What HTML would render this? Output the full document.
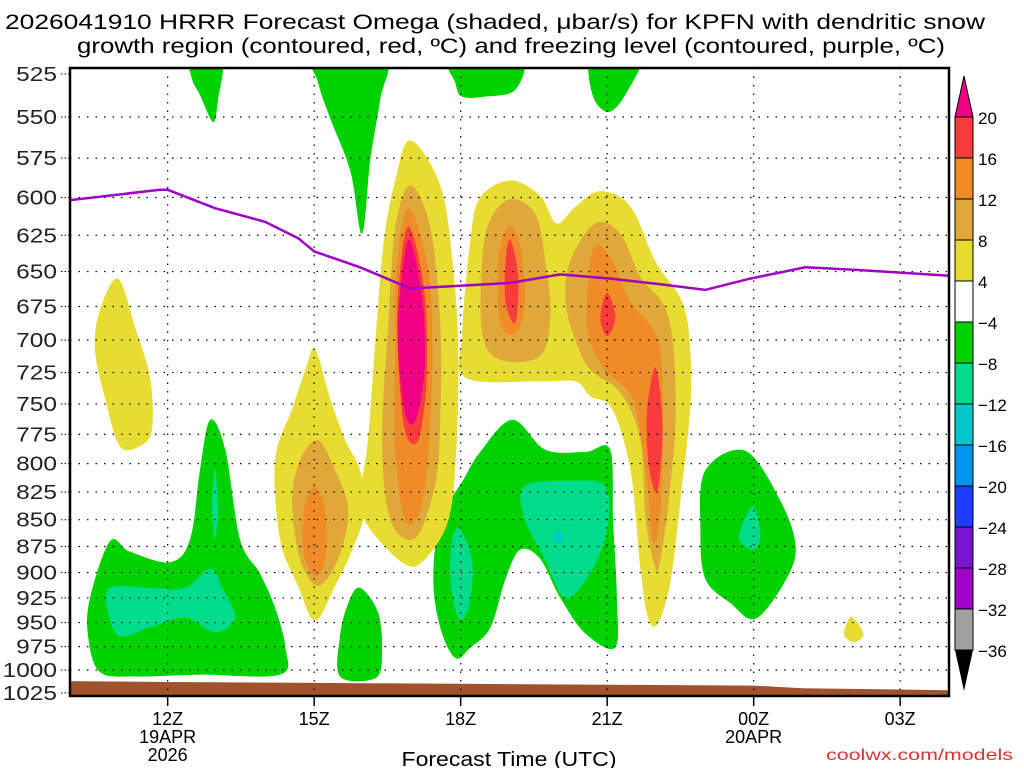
<!DOCTYPE html>
<html><head><meta charset="utf-8">
<style>
body{margin:0;background:#fff;}
svg text{font-family:"Liberation Sans","DejaVu Sans",sans-serif;}
</style></head>
<body>
<svg id="chart" width="1024" height="768" viewBox="0 0 1024 768" xmlns="http://www.w3.org/2000/svg">
<text x="495" y="29" font-size="21" text-anchor="middle" textLength="980" lengthAdjust="spacingAndGlyphs">2026041910 HRRR Forecast Omega (shaded, μbar/s) for KPFN with dendritic snow</text>
<text x="511" y="53" font-size="21" text-anchor="middle" textLength="868" lengthAdjust="spacingAndGlyphs">growth region (contoured, red, ºC) and freezing level (contoured, purple, ºC)</text>
<defs><clipPath id="plotclip"><rect x="70" y="68" width="879" height="628"/></clipPath></defs>
<g id="shading" clip-path="url(#plotclip)"></g>
<g id="grid"></g>
<g id="frz" clip-path="url(#plotclip)"></g>
<rect x="70" y="68" width="879" height="628" fill="none" stroke="#000" stroke-width="2.5"/>
<g id="axes"></g>
<g id="colorbar"></g>
<text x="509" y="766" font-size="20" text-anchor="middle" textLength="215" lengthAdjust="spacingAndGlyphs">Forecast Time (UTC)</text>
<text x="1013" y="760" font-size="16" text-anchor="end" fill="#e03030" textLength="187" lengthAdjust="spacingAndGlyphs">coolwx.com/models</text>
</svg>
<script>
// ---- data ----
const pLevels=[525,550,575,600,625,650,675,700,725,750,775,800,825,850,875,900,925,950,975,1000,1025];
const timeTicks=[12,15,18,21,24,27];
const timeLabels=["12Z","15Z","18Z","21Z","00Z","03Z"];
const cbLevels=[20,16,12,8,4,-4,-8,-12,-16,-20,-24,-28,-32,-36];
const cbColors=["#f83c3c","#f08c28","#e0a838","#e6dc32","#ffffff","#00d200","#00dc8c","#00c8c8","#0096f0","#1e3cff","#7814d2","#a000c8","#a0a0a0"];
const frzHours=[10,11.84,12,12.97,14,14.67,15,15.94,16.97,17.99,19.02,20.04,21.07,22.09,23.01,23.93,25.06,26.19,28];
const frzP=[601.7,595,595,607,616,627,636,647,662,660,658,652,655,659,663,655,647,649,653];
const sfcHours=[10,12,15,18,21,24,25,28];
const sfcP=[1012,1013,1014,1015,1016,1017,1020,1022];
const regions=[
["#00d200",[[10.41,925],[10.82,870],[11.23,880],[12.05,890],[12.46,868],[12.66,806],[12.87,763],[13.18,788],[13.48,868],[13.89,901],[14.2,935],[14.41,976],[14.3,1005],[12.66,1005],[11.33,1007],[10.61,1002],[10.37,964]]],
["#00dc8c",[[10.82,915],[11.64,915],[12.36,915],[12.87,896],[13.12,915],[13.38,945],[12.97,960],[12.36,945],[11.64,955],[11.02,964],[10.78,940]]],
["#00dc8c",[[12.97,804],[13.03,842],[12.97,868],[12.91,838]]],
["#00d200",[[12.46,515],[13.11,515],[13.03,540],[12.93,553],[12.66,537],[12.5,528]]],
["#00d200",[[15.02,515],[16.45,515],[16.35,540],[16.15,576],[15.98,624],[15.74,583],[15.33,551],[15.08,530]]],
["#00d200",[[17.79,515],[19.22,515],[19.12,534],[18.5,538],[18.03,538],[17.89,530]]],
["#00d200",[[20.7,515],[21.68,515],[21.37,537],[21.02,547],[20.7,537]]],
["#00d200",[[15.94,915],[16.31,940],[16.39,983],[16.25,1009],[15.53,1007],[15.53,964],[15.7,930]]],
["#00d200",[[17.58,850],[18.03,816],[18.4,790],[19.06,763],[19.73,788],[20.55,790],[21.06,788],[21.12,850],[21.2,925],[21.16,976],[20.55,961],[20.04,925],[19.63,887],[19.22,878],[18.92,906],[18.61,955],[18.2,976],[17.89,987],[17.58,955],[17.44,906]]],
["#00dc8c",[[19.3,820],[20.25,815],[20.96,820],[21.0,859],[20.66,900],[20.14,925],[19.73,887],[19.32,850]]],
["#00dc8c",[[17.99,859],[18.24,891],[18.16,935],[17.95,945],[17.79,906],[17.83,868]]],
["#00c8c8",[[19.95,860],[20.08,862],[20.05,872],[19.95,870]]],
["#00d200",[[23.01,806],[23.83,789],[24.55,833],[24.86,875],[24.65,908],[24.04,946],[23.52,930],[23.01,906],[22.91,859]]],
["#00dc8c",[[23.98,838],[24.14,866],[23.98,878],[23.7,866]]],
["#e6dc32",[[10.98,655],[11.33,690],[11.64,729],[11.68,771],[11.43,785],[11.02,785],[10.72,746],[10.51,707],[10.61,678]]],
["#e6dc32",[[26.0,944],[26.25,962],[26.05,970],[25.85,962]]],
["#e6dc32",[[15.02,707],[15.33,746],[15.64,780],[15.94,806],[16.04,842],[15.78,878],[15.43,913],[15.02,948],[14.67,913],[14.3,868],[14.2,797],[14.55,754],[14.82,723]]],
["#e0a838",[[15.08,780],[15.43,806],[15.7,842],[15.49,887],[15.08,913],[14.71,887],[14.55,833],[14.71,797]]],
["#f08c28",[[15.02,820],[15.23,842],[15.23,887],[15.02,904],[14.79,882],[14.79,842]]],
["#e6dc32",[[16.97,564],[17.58,592],[17.83,642],[17.95,706],[17.91,788],[17.75,850],[17.27,887],[16.86,892],[16.15,859],[15.94,832],[16.1,780],[16.27,692],[16.43,628],[16.66,589]]],
["#e0a838",[[16.97,592],[17.38,620],[17.58,687],[17.58,764],[17.48,818],[17.07,867],[16.56,850],[16.39,780],[16.52,687],[16.66,620]]],
["#f08c28",[[16.93,607],[17.34,649],[17.42,715],[17.34,788],[17.17,842],[16.86,850],[16.66,788],[16.66,707],[16.68,649]]],
["#f83c3c",[[16.93,619],[17.26,665],[17.3,731],[17.13,780],[16.86,772],[16.72,715],[16.72,665]]],
["#f00082",[[16.95,628],[17.22,672],[17.26,723],[17.07,764],[16.86,757],[16.72,707],[16.76,665]]],
["#e6dc32",[[18.2,628],[18.4,600],[19.02,589],[19.63,599],[19.96,617],[20.35,606],[20.86,596],[21.48,606],[21.99,643],[22.54,672],[22.7,707],[22.7,754],[22.5,833],[22.3,908],[22.05,950],[21.84,946],[21.68,896],[21.48,806],[21.1,754],[20.66,744],[20.35,732],[19.63,732],[18.1,729],[18.03,695]]],
["#e0a838",[[18.6,615],[19.02,601],[19.53,611],[19.73,642],[19.84,680],[19.63,712],[18.81,715],[18.44,695],[18.44,642]]],
["#e0a838",[[20.25,642],[20.76,617],[21.27,624],[21.68,654],[22.13,672],[22.34,700],[22.4,762],[22.26,833],[22.09,887],[21.99,896],[21.79,850],[21.68,780],[21.27,741],[20.66,723],[20.35,700],[20.15,672]]],
["#f08c28",[[18.98,619],[19.22,632],[19.32,672],[19.12,695],[18.81,687],[18.77,642]]],
["#f08c28",[[20.76,632],[21.1,642],[21.48,672],[21.99,695],[22.13,729],[22.13,806],[22.05,859],[21.93,868],[21.79,806],[21.52,746],[20.96,723],[20.61,695],[20.61,657]]],
["#f83c3c",[[19.02,628],[19.18,654],[19.12,687],[18.92,672],[18.92,642]]],
["#f83c3c",[[21.0,665],[21.17,683],[21.0,697],[20.86,683]]],
["#f83c3c",[[21.99,721],[22.13,762],[22.09,806],[21.99,825],[21.84,797],[21.82,754]]]
];
// ---- axes ----
const X0=70,X1=949,H0=10,H1=28;
function x(h){return X0+(h-H0)*(X1-X0)/(H1-H0);}
const Y0=74,K=925;
function y(p){return Y0+K*Math.log(p/525);}
const NS="http://www.w3.org/2000/svg";
function mk(tag,attrs,parent){const e=document.createElementNS(NS,tag);for(const k in attrs)e.setAttribute(k,attrs[k]);parent.appendChild(e);return e;}
function smooth(pts){
  const n=pts.length;let d="M"+pts[0][0].toFixed(1)+","+pts[0][1].toFixed(1);
  for(let i=0;i<n;i++){const p0=pts[(i-1+n)%n],p1=pts[i],p2=pts[(i+1)%n],p3=pts[(i+2)%n];
    const c1=[p1[0]+(p2[0]-p0[0])/6,p1[1]+(p2[1]-p0[1])/6],c2=[p2[0]-(p3[0]-p1[0])/6,p2[1]-(p3[1]-p1[1])/6];
    d+="C"+c1[0].toFixed(1)+","+c1[1].toFixed(1)+" "+c2[0].toFixed(1)+","+c2[1].toFixed(1)+" "+p2[0].toFixed(1)+","+p2[1].toFixed(1);}
  return d+"Z";}
const gS=document.getElementById('shading');
regions.forEach((r,i)=>{
  const pts=r[1].map(q=>[x(q[0]),y(q[1])]);
  const el=mk('path',{d:smooth(pts),fill:r[0]},gS);
  
  
});
let gd="M"+x(sfcHours[0])+","+y(sfcP[0]);
sfcHours.forEach((h,i)=>{gd+="L"+x(h).toFixed(1)+","+y(sfcP[i]).toFixed(1);});
gd+="L"+x(H1)+",697L"+x(H0)+",697Z";
const ground=mk('path',{d:gd,fill:"#a0522d"},gS);


const gG=document.getElementById('grid'),gA=document.getElementById('axes');
pLevels.forEach(p=>{
  const yy=y(p);
  if(p>525&&p<1025){const l=mk('line',{x1:X0,x2:X1,y1:yy,y2:yy,stroke:"#000","stroke-width":1.2,"stroke-dasharray":"1.5,7"},gG);
  
  }
  const s=String(p);
  const t=mk('text',{x:57,y:yy+7,"font-size":20,"text-anchor":"end",fill:"#222",textLength:13.6*s.length,lengthAdjust:"spacingAndGlyphs"},gA);t.textContent=s;
  
  
  mk('line',{x1:61,x2:70,y1:yy,y2:yy,stroke:"#000","stroke-width":1,"stroke-dasharray":"1.5,2"},gA);
});
timeTicks.forEach((h,i)=>{
  const xx=x(h);
  const l=mk('line',{x1:xx,x2:xx,y1:68,y2:696,stroke:"#000","stroke-width":1.2,"stroke-dasharray":"1.5,7"},gG);
  
  
  mk('line',{x1:xx,x2:xx,y1:696,y2:706,stroke:"#000","stroke-width":1.5},gA);
  const t=mk('text',{x:xx,y:725,"font-size":18,"text-anchor":"middle"},gA);t.textContent=timeLabels[i];
  
  
});
[["19APR",12,743],["2026",12,761],["20APR",24,743]].forEach(a=>{
  const t=mk('text',{x:x(a[1]),y:a[2],"font-size":18,"text-anchor":"middle"},gA);t.textContent=a[0];
  
  
});
const gF=document.getElementById('frz');
const fl=mk('polyline',{points:frzHours.map((h,i)=>x(h).toFixed(1)+","+y(frzP[i]).toFixed(1)).join(" "),fill:"none",stroke:"#a000c8","stroke-width":2.5},gF);


const gC=document.getElementById('colorbar');
const cbX=955,cbW=18,cbTop=117,cbStep=41;
const tri=mk('polygon',{points:`${cbX},${cbTop} ${cbX+cbW},${cbTop} ${cbX+cbW/2},76`,fill:"#f00082",stroke:"#000","stroke-width":1},gC);


cbColors.forEach((c,i)=>{
  const r=mk('rect',{x:cbX,y:cbTop+i*cbStep,width:cbW,height:cbStep,fill:c,stroke:"#000","stroke-width":1},gC);
  
  
});
const yb=cbTop+cbColors.length*cbStep;
const tri2=mk('polygon',{points:`${cbX},${yb} ${cbX+cbW},${yb} ${cbX+cbW/2},691`,fill:"#000"},gC);


cbLevels.forEach((v,i)=>{
  const t=mk('text',{x:978,y:cbTop+i*cbStep+7,"font-size":17},gC);t.textContent=(v<0?"−":"")+Math.abs(v);
  
  
});
</script>
</body></html>
